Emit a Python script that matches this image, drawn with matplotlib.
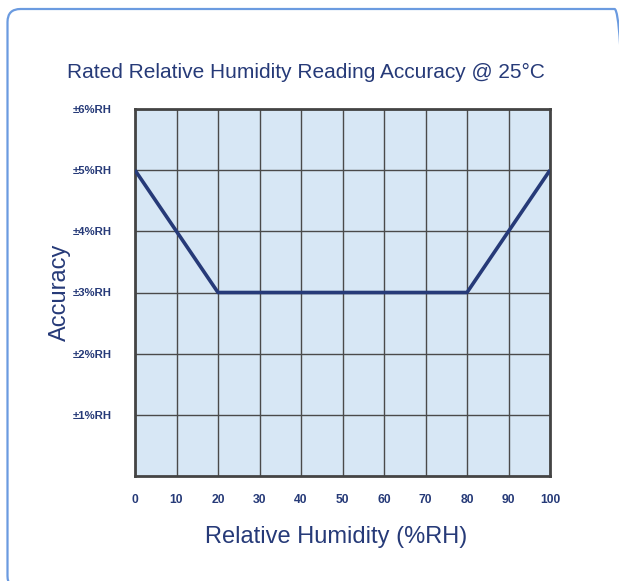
import matplotlib.pyplot as plt
from matplotlib.patches import FancyBboxPatch

plt.rcParams["font.family"] = ["Liberation Sans", "DejaVu Sans"]

NAVY = "#263a78"
FILL = "#d7e7f5"
GRID = "#4a4a4a"

# accuracy curve (±%RH) against relative humidity
rh = [0, 10, 20, 80, 90, 100]
accuracy = [5, 4, 3, 3, 4, 5]

x_ticks = [0, 10, 20, 30, 40, 50, 60, 70, 80, 90, 100]
y_ticks = [1, 2, 3, 4, 5, 6]
y_labels = ["±1%RH", "±2%RH", "±3%RH", "±4%RH", "±5%RH", "±6%RH"]

W, H = 619, 581
fig = plt.figure(figsize=(W / 100, H / 100), dpi=100)

# full-figure background axes in pixel units for the rounded card
bg = fig.add_axes([0, 0, 1, 1], zorder=-1)
bg.set_xlim(0, W)
bg.set_ylim(0, H)
bg.axis("off")
bg.add_patch(FancyBboxPatch(
    (7.5, -8), 620, H - 9 + 8,
    boxstyle="round,pad=0,rounding_size=13",
    facecolor="none", edgecolor="#6b9be0", linewidth=1.6, clip_on=False,
))

ax = fig.add_axes([135 / W, 105 / H, 415 / W, 367 / H])
ax.set_facecolor(FILL)
ax.plot(rh, accuracy, color=NAVY, linewidth=2.6, solid_capstyle="butt", zorder=3)

ax.set_xlim(0, 100)
ax.set_ylim(0, 6)
ax.set_xticks(x_ticks)
ax.set_xticklabels([str(v) for v in x_ticks])
ax.set_yticks(y_ticks)
ax.set_yticklabels(y_labels)
ax.grid(True, color=GRID, linewidth=1.0, zorder=1)
ax.set_axisbelow(True)

for spine in ax.spines.values():
    spine.set_color("#444444")
    spine.set_linewidth(2.0)

ax.tick_params(axis="both", length=0, labelcolor=NAVY)
ax.tick_params(axis="x", pad=13, labelsize=8.7)
ax.tick_params(axis="y", pad=17, labelsize=8.2)
for lbl in ax.get_xticklabels() + ax.get_yticklabels():
    lbl.set_fontweight("bold")

ax.set_xlabel("Relative Humidity (%RH)", fontsize=17, color=NAVY)
ax.set_ylabel("Accuracy", fontsize=17, color=NAVY)
ax.yaxis.set_label_coords(-64 / 415, 0.5)
ax.xaxis.set_label_coords(0.485, -50 / 367)

fig.text(67 / W, 1 - 72 / H, "Rated Relative Humidity Reading Accuracy @ 25°C",
         fontsize=15, color=NAVY, ha="left", va="center")

fig.savefig("out.png", dpi=100)
